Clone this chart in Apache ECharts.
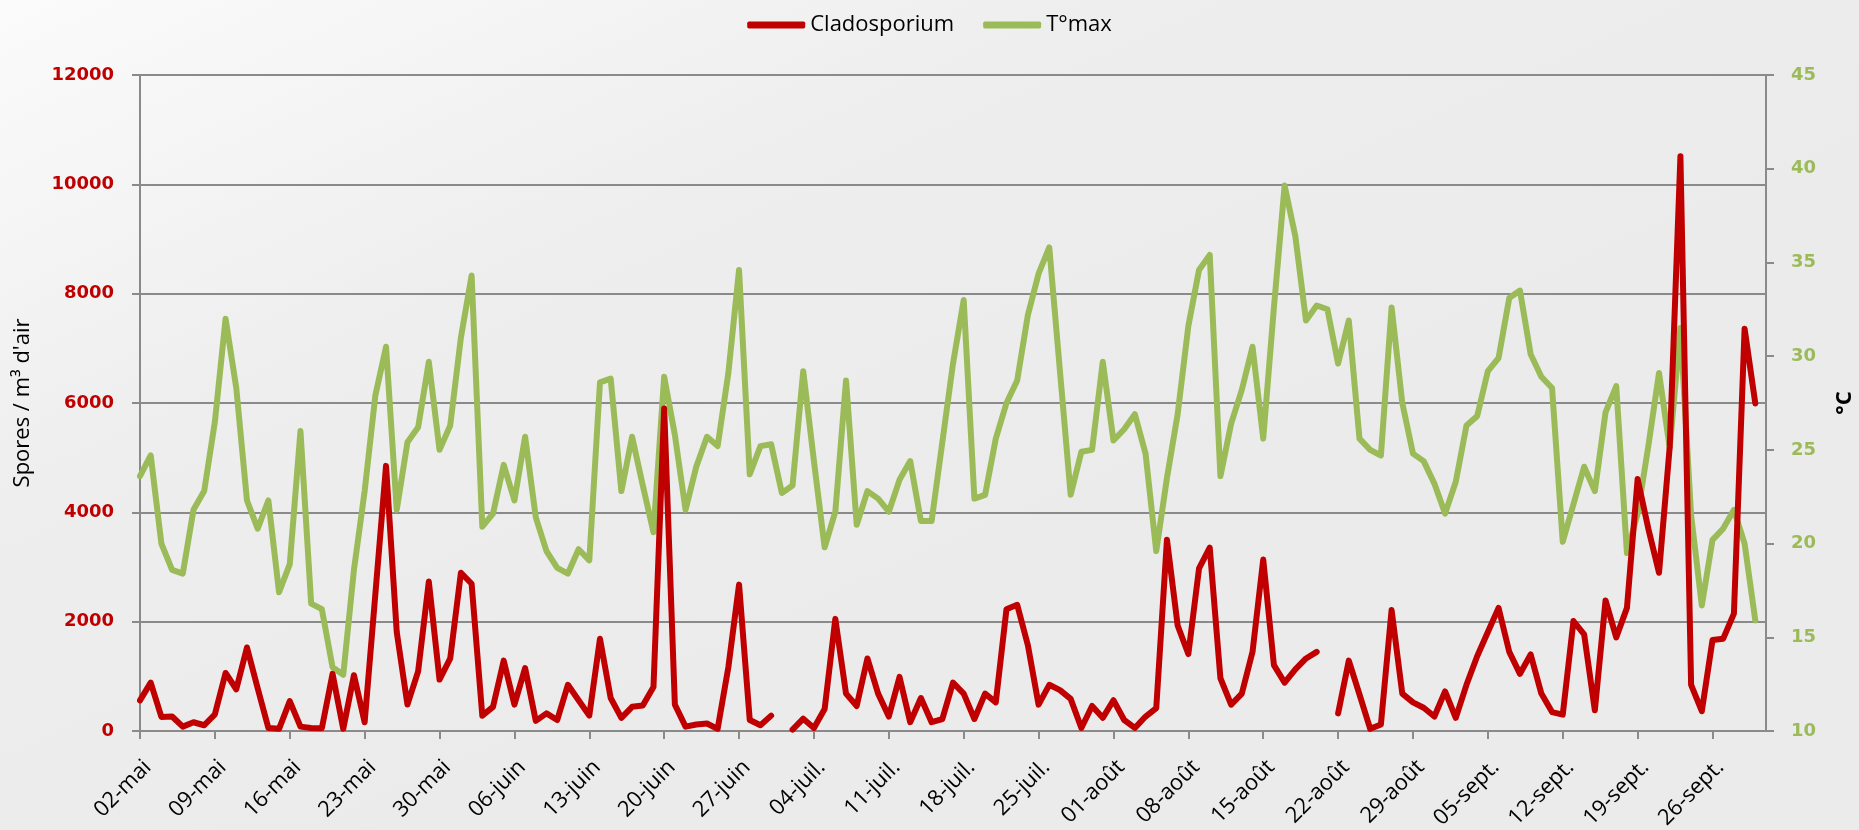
<!DOCTYPE html>
<html>
<head>
<meta charset="utf-8">
<script src="https://cdn.jsdelivr.net/npm/echarts@6/dist/echarts.min.js"></script>
<style>
html, body { margin: 0; padding: 0; }
#chart { width: 1859px; height: 830px; }
</style>
</head>
<body>
<div id="chart"></div>
<script>
// daily categories from 02-mai to 01-oct
const monthNames = ['mai', 'juin', 'juil.', 'août', 'sept.', 'oct.']
const monthDays = [31, 30, 31, 31, 30, 1]
const categories = []
monthNames.forEach(function (m, i) {
  for (let d = (i === 0 ? 2 : 1); d <= monthDays[i]; d++) {
    categories.push((d < 10 ? '0' + d : '' + d) + '-' + m)
  }
})

// Cladosporium, spores / m3 d'air (null = no reading)
const spores = [
  560, 885, 257, 265, 80, 160, 105, 305, 1062, 764,
  1528, 780, 56, 40, 547, 80, 56, 50, 1045, 40,
  1021, 160, 2500, 4850, 1810, 483, 1090, 2735, 941, 1327,
  2895, 2694, 281, 442, 1287, 483, 1150, 185, 322, 201,
  845, 563, 281, 1689, 603, 241, 442, 466, 804, 5900,
  483, 80, 120, 137, 40, 1166, 2678, 201, 105, 281,
  null, 24, 225, 56, 402, 2051, 684, 458, 1327, 684,
  265, 989, 161, 603, 161, 217, 885, 684, 220, 684,
  523, 2228, 2308, 1568, 483, 845, 748, 587, 56, 458,
  241, 563, 201, 56, 265, 418, 3499, 1930, 1408, 2976,
  3354, 965, 483, 684, 1448, 3137, 1206, 885, 1126, 1327,
  1448, null, 322, 1287, 668, 40, 120, 2212, 684, 523,
  426, 265, 724, 241, 845, 1367, 1810, 2252, 1448, 1046,
  1400, 684, 346, 298, 2011, 1769, 378, 2389, 1713, 2252,
  4609, 3700, 2895, 5200, 10512, 845, 362, 1665, 1689, 2147,
  7359, 5992
]

// T°max, °C
const tmax = [
  23.6, 24.7, 20.0, 18.6, 18.4, 21.8, 22.8, 26.5, 32.0, 28.3,
  22.3, 20.8, 22.3, 17.4, 18.9, 26.0, 16.8, 16.5, 13.4, 13.0,
  18.6, 22.8, 27.9, 30.5, 21.8, 25.4, 26.2, 29.7, 25.0, 26.3,
  31.0, 34.3, 20.9, 21.6, 24.2, 22.3, 25.7, 21.4, 19.6, 18.7,
  18.4, 19.7, 19.1, 28.6, 28.8, 22.8, 25.7, 23.1, 20.6, 28.9,
  25.8, 21.8, 24.1, 25.7, 25.2, 29.1, 34.6, 23.7, 25.2, 25.3,
  22.7, 23.1, 29.2, 24.4, 19.8, 21.7, 28.7, 21.0, 22.8, 22.4,
  21.7, 23.4, 24.4, 21.2, 21.2, 25.4, 29.6, 33.0, 22.4, 22.6,
  25.6, 27.5, 28.7, 32.2, 34.4, 35.8, 29.2, 22.6, 24.9, 25.0,
  29.7, 25.5, 26.1, 26.9, 24.8, 19.6, 23.5, 26.9, 31.6, 34.6,
  35.4, 23.6, 26.4, 28.2, 30.5, 25.6, 32.6, 39.1, 36.4, 31.9,
  32.7, 32.5, 29.6, 31.9, 25.6, 25.0, 24.7, 32.6, 27.5, 24.8,
  24.4, 23.2, 21.6, 23.3, 26.3, 26.8, 29.2, 29.9, 33.1, 33.5,
  30.1, 28.9, 28.3, 20.1, 22.1, 24.1, 22.8, 27.0, 28.4, 19.5,
  21.6, 25.2, 29.1, 25.1, 31.5, 21.5, 16.7, 20.2, 20.8, 21.8,
  20.0, 15.9
]

const red = '#c00000'
const green = '#9bbb59'
const axisGrey = '#8a8a8a'

const chart = echarts.init(document.getElementById('chart'))
const option = {
  backgroundColor: {
    type: 'linear', x: 0, y: 0, x2: 0.2, y2: 1,
    colorStops: [{ offset: 0, color: '#fbfbfb' }, { offset: 0.5, color: '#eeeeee' }, { offset: 1, color: '#ebebeb' }]
  },
  textStyle: { fontFamily: 'Open Sans' },
  legend: {
    top: 9,
    left: 'center',
    icon: 'roundRect',
    itemWidth: 58,
    itemHeight: 7,
    itemGap: 29,
    textStyle: { fontSize: 22, color: '#000' },
    data: ['Cladosporium', 'T°max']
  },
  grid: { left: 140, right: 93, top: 75, bottom: 99, outerBoundsMode: 'none' },
  xAxis: {
    type: 'category',
    boundaryGap: false,
    data: categories,
    axisLine: { lineStyle: { color: axisGrey, width: 2 } },
    axisTick: { show: true, interval: 6, length: 8, lineStyle: { color: axisGrey, width: 2 } },
    axisLabel: { interval: 6, rotate: 45, margin: 25, fontSize: 22, color: '#000', verticalAlign: 'top' }
  },
  yAxis: [{
    type: 'value',
    min: 0,
    max: 12000,
    interval: 2000,
    name: 'Spores / m³ d\'air',
    nameLocation: 'middle',
    nameRotate: 90,
    nameGap: 106,
    nameTextStyle: { fontSize: 22, color: '#000' },
    axisLine: { show: true, lineStyle: { color: axisGrey, width: 2 } },
    axisTick: { show: true, length: 8, lineStyle: { color: axisGrey, width: 2 } },
    axisLabel: {
      margin: 26, fontSize: 18, fontWeight: 'bold', color: red, fontFamily: 'DejaVu Sans',
      formatter: function (v) { return String(v) }
    },
    splitLine: { lineStyle: { color: axisGrey, width: 2 } }
  }, {
    type: 'value',
    position: 'right',
    min: 10,
    max: 45,
    interval: 5,
    name: '°C',
    nameLocation: 'middle',
    nameRotate: 90,
    nameGap: 68,
    nameTextStyle: { fontSize: 22, color: '#000', fontWeight: 'bold' },
    axisLine: { show: true, lineStyle: { color: axisGrey, width: 2 } },
    axisTick: { show: true, length: 8, lineStyle: { color: axisGrey, width: 2 } },
    axisLabel: { margin: 25, fontSize: 18, fontWeight: 'bold', color: green, fontFamily: 'DejaVu Sans' },
    splitLine: { show: false }
  }],
  series: [{
    name: 'Cladosporium',
    type: 'line',
    yAxisIndex: 0,
    data: spores,
    symbol: 'none',
    color: red,
    lineStyle: { width: 6, join: 'round', cap: 'round' }
  }, {
    name: 'T°max',
    type: 'line',
    yAxisIndex: 1,
    data: tmax,
    symbol: 'none',
    color: green,
    z: 1,
    lineStyle: { width: 6, join: 'round', cap: 'round' }
  }]
}
chart.setOption(option)
</script>
</body>
</html>
